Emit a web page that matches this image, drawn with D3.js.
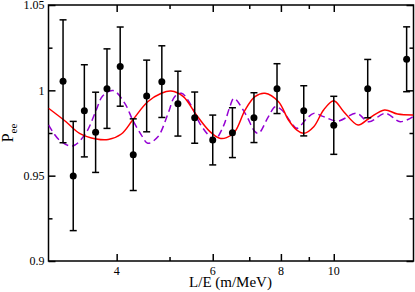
<!DOCTYPE html>
<html>
<head>
<meta charset="utf-8">
<script src="https://cdn.jsdelivr.net/npm/d3@7"></script>
<style>
  body { margin: 0; background: #fff; }
  text { font-family: "Liberation Serif", "DejaVu Serif", serif; }
</style>
</head>
<body>
<div id="chart"></div>
<script>
// measured points with errors
var dataLE = [3.19, 3.33, 3.49, 3.66, 3.84, 4.06, 4.29, 4.54, 4.84, 5.18, 5.56, 6.0, 6.52, 7.14, 7.87, 8.81, 10.0, 11.54, 13.6];
var dataP = [1.0053, 0.9498, 0.988, 0.9754, 1.001, 1.0139, 0.9623, 0.9967, 1.0051, 0.9922, 0.984, 0.9709, 0.9752, 0.984, 1.001, 0.988, 0.9795, 1.001, 1.0182];
var dataErr = [0.036, 0.032, 0.027, 0.0235, 0.0233, 0.0232, 0.021, 0.021, 0.021, 0.019, 0.015, 0.0146, 0.0146, 0.0146, 0.0146, 0.0147, 0.017, 0.0171, 0.019];

// red solid fit
var redLE = [3.0, 3.23, 3.42, 3.67, 3.86, 4.08, 4.28, 4.56, 4.83, 5.03, 5.30, 5.60, 5.93, 6.18, 6.36, 6.59, 6.88, 7.17, 7.48, 7.92, 8.26, 8.55, 8.81, 9.19, 9.58, 10.0, 10.43, 11.08, 11.63, 12.39, 13.09, 14.0];
var redP = [0.9895, 0.9816, 0.9748, 0.9715, 0.9712, 0.9744, 0.9826, 0.9933, 0.9983, 0.9996, 0.9963, 0.9856, 0.9758, 0.9719, 0.9723, 0.9758, 0.9885, 0.9963, 0.9983, 0.9933, 0.9826, 0.9768, 0.9748, 0.9787, 0.9885, 0.9939, 0.9875, 0.9797, 0.9838, 0.9885, 0.9861, 0.9856];

// purple dashed fit
var purpleLE = [3.0, 3.14, 3.32, 3.51, 3.67, 3.77, 3.94, 4.14, 4.28, 4.44, 4.56, 4.76, 4.97, 5.11, 5.26, 5.45, 5.68, 5.93, 6.05, 6.27, 6.45, 6.56, 6.88, 7.17, 7.28, 7.59, 7.81, 8.03, 8.37, 8.56, 8.93, 9.19, 9.58, 10.17, 11.01, 11.59, 12.43, 13.24, 13.95];
var purpleP = [0.9797, 0.9709, 0.9674, 0.9748, 0.9885, 0.9967, 0.9999, 0.9924, 0.9826, 0.9738, 0.9690, 0.9728, 0.9865, 0.9963, 0.9983, 0.9924, 0.9807, 0.9728, 0.9709, 0.9787, 0.9904, 0.9953, 0.9865, 0.9758, 0.9748, 0.9846, 0.9904, 0.9885, 0.9807, 0.9778, 0.9836, 0.9865, 0.9846, 0.9820, 0.9865, 0.9816, 0.9865, 0.9816, 0.9845];

var xMajor = [4, 6, 8, 10];
var xMinor = [5, 7, 9];
var yMajor = [0.9, 0.95, 1, 1.05];
var yMinor = [0.925, 0.975, 1.025];

var w = 415, h = 292;
var pLeft = 48.5, pRight = 413.5, pTop = 5, pBottom = 261;

var svg = d3.select("#chart").append("svg")
    .attr("width", w)
    .attr("height", h);

var x = d3.scaleLog().domain([3, 14]).range([pLeft, pRight]);
var y = d3.scaleLinear().domain([0.9, 1.05]).range([pBottom, pTop]);

var fmtY = function (d) { return String(+d.toFixed(2)); };

// axes, ticks pointing inward, mirrored on all four sides
function ticks(axis, pos, vals, size) {
    svg.append("g")
        .attr("class", "ax")
        .attr("transform", pos)
        .call(axis.tickValues(vals).tickSize(size).tickFormat(""));
}
ticks(d3.axisTop(x), "translate(0," + pBottom + ")", xMajor, 7);
ticks(d3.axisTop(x), "translate(0," + pBottom + ")", xMinor, 4);
ticks(d3.axisBottom(x), "translate(0," + pTop + ")", xMajor, 7);
ticks(d3.axisBottom(x), "translate(0," + pTop + ")", xMinor, 4);
ticks(d3.axisRight(y), "translate(" + pLeft + ",0)", yMajor, 7);
ticks(d3.axisRight(y), "translate(" + pLeft + ",0)", yMinor, 4);
ticks(d3.axisLeft(y), "translate(" + pRight + ",0)", yMajor, 7);
ticks(d3.axisLeft(y), "translate(" + pRight + ",0)", yMinor, 4);

svg.selectAll(".ax .domain").remove();
svg.selectAll(".ax text").remove();
svg.selectAll(".ax .tick line").attr("stroke", "#000").attr("stroke-width", 1.5);

// tick labels
svg.selectAll(".xlab")
    .data(xMajor)
    .join("text")
    .attr("class", "xlab")
    .attr("x", d => x(d))
    .attr("y", pBottom + 14)
    .attr("text-anchor", "middle")
    .attr("font-size", 12)
    .text(d => d);

svg.selectAll(".ylab")
    .data(yMajor)
    .join("text")
    .attr("class", "ylab")
    .attr("x", pLeft - 4)
    .attr("y", d => y(d))
    .attr("dy", "0.35em")
    .attr("text-anchor", "end")
    .attr("font-size", 12)
    .text(fmtY);

// frame
svg.append("rect")
    .attr("x", pLeft)
    .attr("y", pTop)
    .attr("width", pRight - pLeft)
    .attr("height", pBottom - pTop)
    .attr("fill", "none")
    .attr("stroke", "#000")
    .attr("stroke-width", 1.5);

// curves
svg.append("clipPath").attr("id", "clip")
    .append("rect")
    .attr("x", pLeft).attr("y", pTop)
    .attr("width", pRight - pLeft).attr("height", pBottom - pTop);

var line = d3.line()
    .x(d => x(d[0]))
    .y(d => y(d[1]))
    .curve(d3.curveCatmullRom);

svg.append("path")
    .datum(purpleLE.map((d, i) => [d, purpleP[i]]))
    .attr("clip-path", "url(#clip)")
    .attr("d", line)
    .attr("fill", "none")
    .attr("stroke", "#9400d3")
    .attr("stroke-width", 1.5)
    .attr("stroke-dasharray", "7,4");

svg.append("path")
    .datum(redLE.map((d, i) => [d, redP[i]]))
    .attr("clip-path", "url(#clip)")
    .attr("d", line)
    .attr("fill", "none")
    .attr("stroke", "#ff0000")
    .attr("stroke-width", 1.5);

// error bars and points
var pts = dataLE.map((d, i) => ({ le: d, p: dataP[i], e: dataErr[i] }));
var eb = svg.selectAll(".eb")
    .data(pts)
    .join("g")
    .attr("class", "eb")
    .attr("stroke", "#000")
    .attr("stroke-width", 1.5);

eb.append("line")
    .attr("x1", d => x(d.le)).attr("x2", d => x(d.le))
    .attr("y1", d => y(d.p + d.e)).attr("y2", d => y(d.p - d.e));
eb.append("line")
    .attr("x1", d => x(d.le) - 3.5).attr("x2", d => x(d.le) + 3.5)
    .attr("y1", d => y(d.p + d.e)).attr("y2", d => y(d.p + d.e));
eb.append("line")
    .attr("x1", d => x(d.le) - 3.5).attr("x2", d => x(d.le) + 3.5)
    .attr("y1", d => y(d.p - d.e)).attr("y2", d => y(d.p - d.e));

svg.selectAll(".pt")
    .data(pts)
    .join("circle")
    .attr("class", "pt")
    .attr("cx", d => x(d.le))
    .attr("cy", d => y(d.p))
    .attr("r", 3.5)
    .attr("fill", "#000");

// axis titles
svg.append("text")
    .attr("x", (pLeft + pRight) / 2 - 0.5)
    .attr("y", 287)
    .attr("text-anchor", "middle")
    .attr("font-size", 15)
    .text("L/E (m/MeV)");

var yt = svg.append("text")
    .attr("transform", "translate(13," + ((pTop + pBottom) / 2) + ") rotate(-90)")
    .attr("text-anchor", "middle")
    .attr("font-size", 16);
yt.append("tspan").text("P");
yt.append("tspan").attr("font-size", 11).attr("dy", 4).text("ee");
</script>
</body>
</html>
